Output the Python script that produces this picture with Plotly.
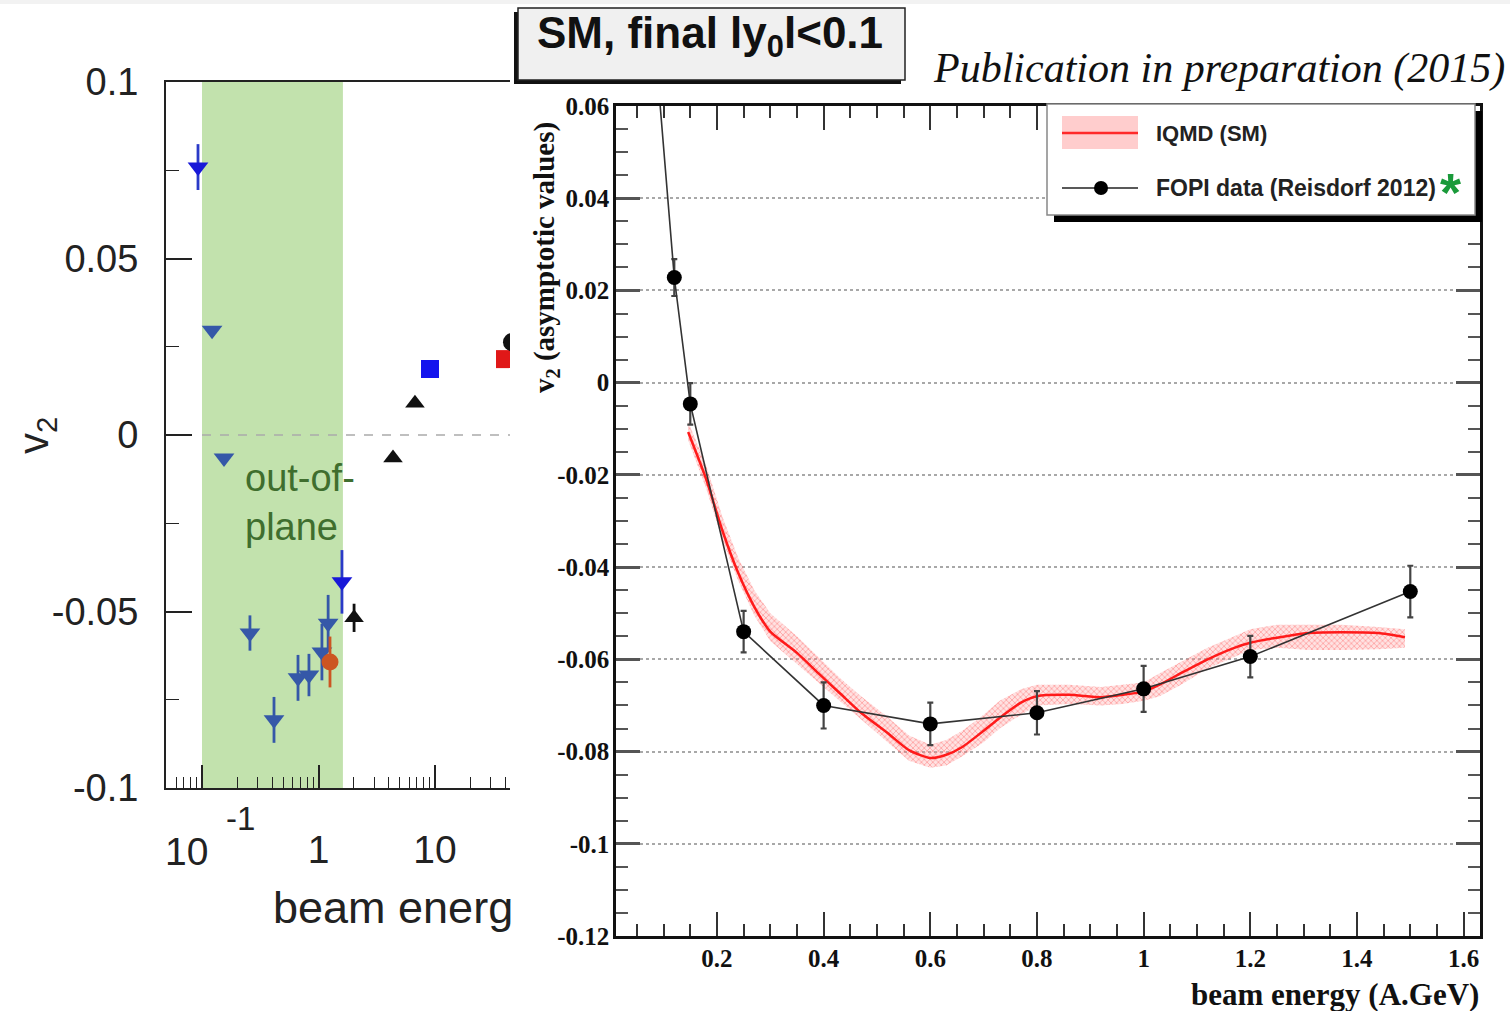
import plotly.graph_objects as go
import math

W, H = 1510, 1011

# ---------------- data: left panel (excitation function, log x) ----------------
blue_tri_x = [0.122, 0.1545, 0.258, 0.415, 0.667, 0.828, 1.07, 1.21]
blue_tri_y = [0.0297, -0.0065, -0.0561, -0.0807, -0.0688, -0.068, -0.0615, -0.0533]
blue_tri_err = [0.001, 0.001, 0.005, 0.0065, 0.0065, 0.006, 0.008, 0.008]

blue_tri2_x = [0.0924, 1.59]
blue_tri2_y = [0.0759, -0.0416]
blue_tri2_err = [0.0065, 0.009]

orange_x = [1.255]
orange_y = [-0.0643]
orange_err = [0.0072]

black_tri_x = [2.02, 4.36, 6.73]
black_tri_y = [-0.0518, -0.0065, 0.009]
black_tri_err = [0.004, 0.0, 0.0]

blue_sq_x = [9.06]
blue_sq_y = [0.0187]
red_sq_x = [39.9]
red_sq_y = [0.0215]
black_circ_x = [45.8]
black_circ_y = [0.0263]
black_circ_err = [0.004]

band_range = [0.1, 1.62]          # "out-of-plane" region
left_ytick_vals = [-0.1, -0.05, 0, 0.05, 0.1]
left_ytick_text = ["-0.1", "-0.05", "0", "0.05", "0.1"]
left_xtick_vals = [0.1, 1, 10]
left_xtick_text = ["", "1", "10"]   # 10^-1 label drawn as base + raised exponent below

# ---------------- data: right panel (IQMD vs FOPI) ----------------
fopi_x = [0.09, 0.12, 0.15, 0.25, 0.4, 0.6, 0.8, 1.0, 1.2, 1.5]
fopi_y = [0.065, 0.0228, -0.0046, -0.054, -0.070, -0.074, -0.0716, -0.0664, -0.0594, -0.0453]
fopi_err = [0.004, 0.004, 0.0045, 0.0045, 0.005, 0.0046, 0.0047, 0.005, 0.0045, 0.0056]

iqmd_x = [0.146, 0.18, 0.21, 0.24, 0.27, 0.30, 0.35, 0.39, 0.43, 0.47, 0.52, 0.56, 0.60,
          0.63, 0.66, 0.70, 0.73, 0.77, 0.80, 0.86, 0.92, 0.96, 1.00, 1.03, 1.07, 1.12,
          1.17, 1.20, 1.25, 1.31, 1.37, 1.44, 1.49]
iqmd_y = [-0.0107, -0.021, -0.032, -0.0413, -0.0486, -0.054, -0.0586, -0.063, -0.0673,
          -0.0716, -0.076, -0.0797, -0.0814, -0.0807, -0.079, -0.0755, -0.0727, -0.0694,
          -0.068, -0.0677, -0.0682, -0.0677, -0.067, -0.0655, -0.063, -0.060, -0.0575,
          -0.0564, -0.0553, -0.0543, -0.0541, -0.0543, -0.0552]
iqmd_hi = [-0.0085, -0.018, -0.029, -0.038, -0.045, -0.050, -0.055, -0.0595, -0.064,
           -0.068, -0.0725, -0.0765, -0.0785, -0.0775, -0.0755, -0.072, -0.069, -0.0665,
           -0.0655, -0.0655, -0.066, -0.0655, -0.065, -0.063, -0.0605, -0.0575, -0.055,
           -0.0535, -0.0525, -0.0525, -0.0525, -0.053, -0.0535]
iqmd_lo = [-0.0125, -0.023, -0.034, -0.043, -0.0505, -0.056, -0.061, -0.065, -0.069,
           -0.073, -0.078, -0.082, -0.0835, -0.083, -0.081, -0.078, -0.075, -0.072,
           -0.070, -0.0697, -0.070, -0.0697, -0.069, -0.068, -0.0655, -0.062, -0.0595,
           -0.058, -0.0575, -0.058, -0.058, -0.0578, -0.0575]

right_xtick_vals = [0.2, 0.4, 0.6, 0.8, 1.0, 1.2, 1.4, 1.6]
right_xtick_text = ["0.2", "0.4", "0.6", "0.8", "1", "1.2", "1.4", "1.6"]
right_ytick_vals = [0.06, 0.04, 0.02, 0, -0.02, -0.04, -0.06, -0.08, -0.1, -0.12]
right_ytick_text = ["0.06", "0.04", "0.02", "0", "-0.02", "-0.04", "-0.06", "-0.08", "-0.1", "-0.12"]


def px(x):
    return x / W


def py(y):
    return 1 - y / H


SANS = "Liberation Sans, Arial, sans-serif"
SERIF = "Liberation Serif, Times New Roman, serif"

fig = go.Figure()

# ---- left panel traces ----
def err(vals, color, th=2.8):
    return dict(type="data", array=vals, visible=True, color=color, thickness=th, width=0)

fig.add_trace(go.Scatter(x=blue_tri_x, y=blue_tri_y, mode="markers", xaxis="x", yaxis="y",
                         marker=dict(symbol="triangle-down", size=18, color="#3558a8"),
                         error_y=err(blue_tri_err, "#3558a8"), showlegend=False))
fig.add_trace(go.Scatter(x=blue_tri2_x, y=blue_tri2_y, mode="markers", xaxis="x", yaxis="y",
                         marker=dict(symbol="triangle-down", size=18, color="#1818d8"),
                         error_y=err(blue_tri2_err, "#2a3ac8"), showlegend=False))
fig.add_trace(go.Scatter(x=orange_x, y=orange_y, mode="markers", xaxis="x", yaxis="y",
                         marker=dict(symbol="circle", size=17, color="#cc5522"),
                         error_y=err(orange_err, "#cc5522"), showlegend=False))
fig.add_trace(go.Scatter(x=black_tri_x, y=black_tri_y, mode="markers", xaxis="x", yaxis="y",
                         marker=dict(symbol="triangle-up", size=17, color="#111111"),
                         error_y=err(black_tri_err, "#111111"), showlegend=False))
fig.add_trace(go.Scatter(x=blue_sq_x, y=blue_sq_y, mode="markers", xaxis="x", yaxis="y",
                         marker=dict(symbol="square", size=18, color="#1414ee"), showlegend=False))
fig.add_trace(go.Scatter(x=red_sq_x, y=red_sq_y, mode="markers", xaxis="x", yaxis="y",
                         marker=dict(symbol="square", size=18, color="#e01818"), showlegend=False))
fig.add_trace(go.Scatter(x=black_circ_x, y=black_circ_y, mode="markers", xaxis="x", yaxis="y",
                         marker=dict(symbol="circle", size=18, color="#111111"),
                         error_y=err(black_circ_err, "#111111"), showlegend=False))

# ---- right panel traces ----
fig.add_trace(go.Scatter(x=iqmd_x + iqmd_x[::-1], y=iqmd_hi + iqmd_lo[::-1], mode="lines",
                         xaxis="x2", yaxis="y2", fill="toself", line=dict(width=0),
                         fillcolor="rgba(255,160,160,0.3)",
                         fillpattern=dict(shape="x", fgcolor="rgba(255,50,50,0.7)", size=4,
                                          solidity=0.4),
                         showlegend=False, hoverinfo="skip"))
fig.add_trace(go.Scatter(x=iqmd_x, y=iqmd_y, mode="lines", xaxis="x2", yaxis="y2",
                         line=dict(color="#ff1a1a", width=2.5, shape="spline", smoothing=0.6),
                         showlegend=False))
fig.add_trace(go.Scatter(x=fopi_x, y=fopi_y, mode="lines+markers", xaxis="x2", yaxis="y2",
                         line=dict(color="#333333", width=1.6),
                         marker=dict(symbol="circle", size=15, color="#000000"),
                         error_y=dict(type="data", array=fopi_err, visible=True, color="#444444",
                                      thickness=2.2, width=3),
                         showlegend=False))

# ---- axes ----
lx0 = -1 - 36 / 116.5
lx1 = -1 + 308 / 116.5
minor_log = [0.05, 0.06, 0.07, 0.08, 0.09, 0.2, 0.3, 0.4, 0.5, 0.6, 0.7, 0.8, 0.9,
             2, 3, 4, 5, 6, 7, 8, 9, 20, 30, 40]

fig.update_layout(
    width=W, height=H, margin=dict(l=0, r=0, t=0, b=0, pad=0, autoexpand=False),
    paper_bgcolor="white", plot_bgcolor="rgba(0,0,0,0)", showlegend=False,
    xaxis=dict(type="log", domain=[px(166), px(510)], range=[lx0, lx1], anchor="y",
               automargin=False,
               showline=True, linecolor="#222", linewidth=2, mirror=True,
               ticks="inside", ticklen=23, tickwidth=1.5, tickcolor="#222",
               tickvals=left_xtick_vals, ticktext=left_xtick_text,
               minor=dict(tickvals=minor_log, ticks="inside", ticklen=11, tickwidth=1.3,
                          tickcolor="#222", showgrid=False),
               tickfont=dict(family=SANS, size=39, color="#222"),
               ticklabelstandoff=26, showgrid=False, zeroline=False),
    yaxis=dict(domain=[py(788), py(82)], range=[-0.1, 0.1], anchor="x",
               automargin=False,
               showline=True, linecolor="#222", linewidth=2,
               ticks="inside", ticklen=26, tickwidth=1.5, tickcolor="#222",
               tickvals=left_ytick_vals, ticktext=left_ytick_text,
               minor=dict(tickvals=[-0.075, -0.025, 0.025, 0.075], ticks="inside", ticklen=13,
                          tickwidth=1.3, tickcolor="#222", showgrid=False),
               tickfont=dict(family=SANS, size=38, color="#222"),
               ticklabelstandoff=18, showgrid=False, zeroline=False),
    xaxis2=dict(domain=[px(616), px(1480)], range=[0.0107, 1.6307], anchor="y2",
                automargin=False,
                showline=True, linecolor="#111", linewidth=2.5, mirror="allticks",
                ticks="inside", ticklen=24, tickwidth=2, tickcolor="#333",
                tickvals=right_xtick_vals, ticktext=right_xtick_text,
                minor=dict(dtick=0.05, tick0=0, ticks="inside", ticklen=12, tickwidth=2,
                           tickcolor="#333", showgrid=False),
                tickfont=dict(family=SERIF, size=25, color="#111", weight="bold"),
                ticklabelstandoff=-2, showgrid=False, zeroline=False),
    yaxis2=dict(domain=[py(936), py(106)], range=[-0.12, 0.06], anchor="x2",
                automargin=False,
                showline=True, linecolor="#111", linewidth=2.5, mirror="allticks",
                ticks="inside", ticklen=24, tickwidth=2.5, tickcolor="#555",
                tickvals=right_ytick_vals, ticktext=right_ytick_text,
                minor=dict(dtick=0.005, tick0=0, ticks="inside", ticklen=12, tickwidth=2,
                           tickcolor="#555", showgrid=False),
                tickfont=dict(family=SERIF, size=25, color="#111", weight="bold"),
                ticklabelstandoff=-1,
                showgrid=True, gridcolor="#a8a8a8", griddash="dot", gridwidth=2.2,
                zeroline=False),
)

shapes = []
# faint strip along the top edge
shapes.append(dict(type="rect", xref="paper", yref="paper", x0=0, x1=1, y0=py(4), y1=1,
                   fillcolor="#f2f2f2", line=dict(width=0), layer="below"))
# green out-of-plane band
shapes.append(dict(type="rect", xref="x", yref="y domain", x0=band_range[0], x1=band_range[1],
                   y0=0, y1=1, fillcolor="#c2e2ad", line=dict(width=0), layer="below"))
# dashed zero line
shapes.append(dict(type="line", xref="x", yref="y", x0=0.1, x1=10 ** lx1, y0=0, y1=0,
                   line=dict(color="#aaaaaa", width=1.5, dash="dash"), layer="above"))

# title box with shadow
shapes.append(dict(type="rect", xref="paper", yref="paper", x0=px(514), x1=px(901),
                   y0=py(84), y1=py(12), fillcolor="#111", line=dict(width=0), layer="above"))
shapes.append(dict(type="rect", xref="paper", yref="paper", x0=px(518), x1=px(905),
                   y0=py(80), y1=py(8), fillcolor="#f0f0f0", line=dict(color="#222", width=1.5),
                   layer="above"))

# legend box with shadow
shapes.append(dict(type="rect", xref="paper", yref="paper", x0=px(1054), x1=px(1482),
                   y0=py(222), y1=py(111), fillcolor="#000", line=dict(width=0), layer="above"))
shapes.append(dict(type="rect", xref="paper", yref="paper", x0=px(1047), x1=px(1475),
                   y0=py(215), y1=py(104), fillcolor="white", line=dict(color="#888", width=1.5),
                   layer="above"))
# legend samples
shapes.append(dict(type="rect", xref="paper", yref="paper", x0=px(1062), x1=px(1138),
                   y0=py(149), y1=py(116), fillcolor="rgba(255,130,130,0.4)",
                   line=dict(width=0), layer="above"))
shapes.append(dict(type="line", xref="paper", yref="paper", x0=px(1062), x1=px(1138),
                   y0=py(133), y1=py(133), line=dict(color="#ff2a2a", width=2.5), layer="above"))
shapes.append(dict(type="line", xref="paper", yref="paper", x0=px(1062), x1=px(1138),
                   y0=py(188), y1=py(188), line=dict(color="#222", width=1.5), layer="above"))
shapes.append(dict(type="circle", xref="paper", yref="paper", x0=px(1094), x1=px(1108),
                   y0=py(195), y1=py(181), fillcolor="#000", line=dict(width=0), layer="above"))
fig.update_layout(shapes=shapes)

ann = []
# 10^-1 tick label (base and raised exponent, as in the reference)
ann.append(dict(text="10", x=px(186), y=py(851), xref="paper", yref="paper",
                xanchor="center", yanchor="middle", showarrow=False,
                font=dict(family=SANS, size=39, color="#222")))
ann.append(dict(text="-1", x=px(240), y=py(818), xref="paper", yref="paper",
                xanchor="center", yanchor="middle", showarrow=False,
                font=dict(family=SANS, size=33, color="#222")))
ann.append(dict(text="out-of-", x=px(243), y=py(478), xref="paper", yref="paper",
                xanchor="left", yanchor="middle", showarrow=False,
                font=dict(family=SANS, size=38, color="#3f6e2e")))
ann.append(dict(text="plane", x=px(243), y=py(527), xref="paper", yref="paper",
                xanchor="left", yanchor="middle", showarrow=False,
                font=dict(family=SANS, size=38, color="#3f6e2e")))
ann.append(dict(text="v<sub>2</sub>", x=px(36), y=py(436), xref="paper", yref="paper",
                xanchor="center", yanchor="middle", showarrow=False, textangle=-90,
                font=dict(family=SANS, size=42, color="#222")))
ann.append(dict(text="beam energ", x=px(271), y=py(907), xref="paper", yref="paper",
                xanchor="left", yanchor="middle", showarrow=False,
                font=dict(family=SANS, size=45, color="#222")))
ann.append(dict(text="SM, final ly<sub>0</sub>l&lt;0.1", x=px(710), y=py(6), xref="paper",
                yref="paper", xanchor="center", yanchor="top", showarrow=False,
                font=dict(family=SANS, size=44, color="#111", weight="bold")))
ann.append(dict(text="<i>Publication in preparation (2015)</i>", x=px(1507), y=py(68),
                xref="paper", yref="paper", xanchor="right", yanchor="middle", showarrow=False,
                font=dict(family=SERIF, size=42, color="#111")))
ann.append(dict(text="IQMD (SM)", x=px(1154), y=py(133), xref="paper", yref="paper",
                xanchor="left", yanchor="middle", showarrow=False,
                font=dict(family=SANS, size=22, color="#222", weight="bold")))
ann.append(dict(text="FOPI data (Reisdorf 2012)", x=px(1154), y=py(188), xref="paper",
                yref="paper", xanchor="left", yanchor="middle", showarrow=False,
                font=dict(family=SANS, size=23, color="#222", weight="bold")))
ann.append(dict(text="*", x=px(1450), y=py(192), xref="paper", yref="paper",
                xanchor="center", yanchor="middle", showarrow=False,
                font=dict(family=SANS, size=54, color="#1a9a3a", weight="bold")))
ann.append(dict(text="v<sub>2</sub> (asymptotic values)", x=px(546), y=py(258), xref="paper",
                yref="paper", xanchor="center", yanchor="middle", showarrow=False,
                textangle=-90, font=dict(family=SERIF, size=29, color="#111", weight="bold")))
ann.append(dict(text="beam energy (A.GeV)", x=px(1481), y=py(994), xref="paper",
                yref="paper", xanchor="right", yanchor="middle", showarrow=False,
                font=dict(family=SERIF, size=31, color="#111", weight="bold")))
fig.update_layout(annotations=ann)

fig.write_html("out.html")
